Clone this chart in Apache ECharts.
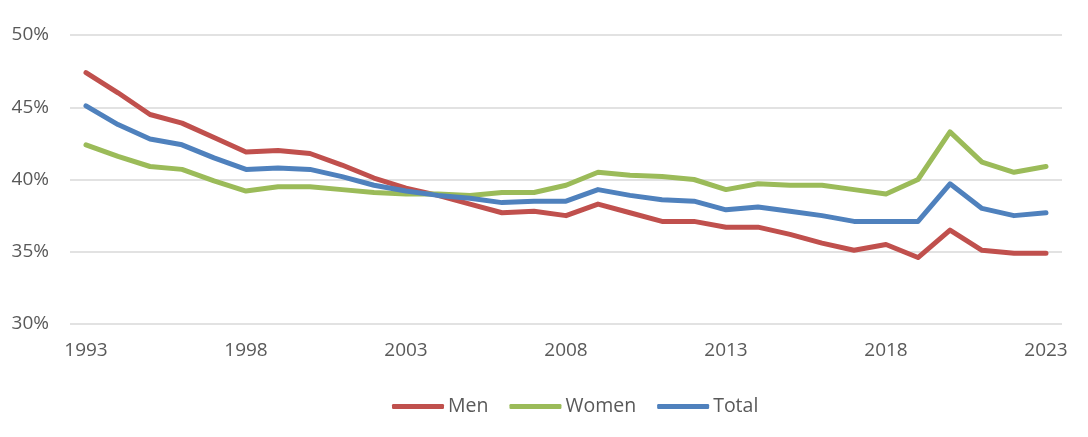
<!DOCTYPE html>
<html>
<head>
<meta charset="utf-8">
<script src="https://cdn.jsdelivr.net/npm/echarts@6/dist/echarts.min.js"></script>
<style>html,body{margin:0;padding:0;background:#fff;}#c{width:1088px;height:437px;}</style>
</head>
<body>
<div id="c"></div>
<script>
var years = [];
for (var y = 1993; y <= 2023; y++) years.push(String(y));
var men = [47.4,46.0,44.5,43.9,42.9,41.9,42.0,41.8,41.0,40.1,39.4,38.9,38.3,37.7,37.8,37.5,38.3,37.7,37.1,37.1,36.7,36.7,36.2,35.6,35.1,35.5,34.6,36.5,35.1,34.9,34.9];
var women = [42.4,41.6,40.9,40.7,39.9,39.2,39.5,39.5,39.3,39.1,39.0,39.0,38.9,39.1,39.1,39.6,40.5,40.3,40.2,40.0,39.3,39.7,39.6,39.6,39.3,39.0,40.0,43.3,41.2,40.5,40.9];
var total = [45.1,43.8,42.8,42.4,41.5,40.7,40.8,40.7,40.2,39.6,39.2,38.9,38.7,38.4,38.5,38.5,39.3,38.9,38.6,38.5,37.9,38.1,37.8,37.5,37.1,37.1,37.1,39.7,38.0,37.5,37.7];
var yTicks = [30, 35, 40, 45, 50];

var chart = echarts.init(document.getElementById('c'));
var font = '"Open Sans", sans-serif';
function mk(name, data, color) {
  return { name: name, type: 'line', data: data, symbol: 'none', smooth: false,
    lineStyle: { width: 5, color: color, cap: 'round', join: 'round' }, itemStyle: { color: color } };
}
chart.setOption({
  animation: false,
  grid: { left: 70, right: 26, top: 35, bottom: 113, containLabel: false },
  xAxis: {
    type: 'category', data: years, boundaryGap: true,
    axisLine: { show: false }, axisTick: { show: false },
    axisLabel: { interval: 4, color: '#595959', fontSize: 19, fontFamily: font, margin: 17 }
  },
  yAxis: {
    type: 'value', min: yTicks[0], max: yTicks[yTicks.length - 1], interval: 5,
    axisLine: { show: false }, axisTick: { show: false },
    splitLine: { lineStyle: { color: '#D9D9D9', width: 1.5 } },
    axisLabel: { color: '#595959', fontSize: 19, fontFamily: font, margin: 21, formatter: function (v) { return v + '%'; } }
  },
  legend: {
    top: 391, left: 387, itemWidth: 52, itemHeight: 5, itemGap: 21, icon: 'roundRect',
    textStyle: { color: '#595959', fontSize: 19.5, lineHeight: 21, fontFamily: font, padding: [0, 0, 0, -1] },
    data: ['Men', 'Women', 'Total']
  },
  series: [mk('Men', men, '#C0504D'), mk('Women', women, '#9BBB59'), mk('Total', total, '#4F81BD')]
});
</script>
</body>
</html>
